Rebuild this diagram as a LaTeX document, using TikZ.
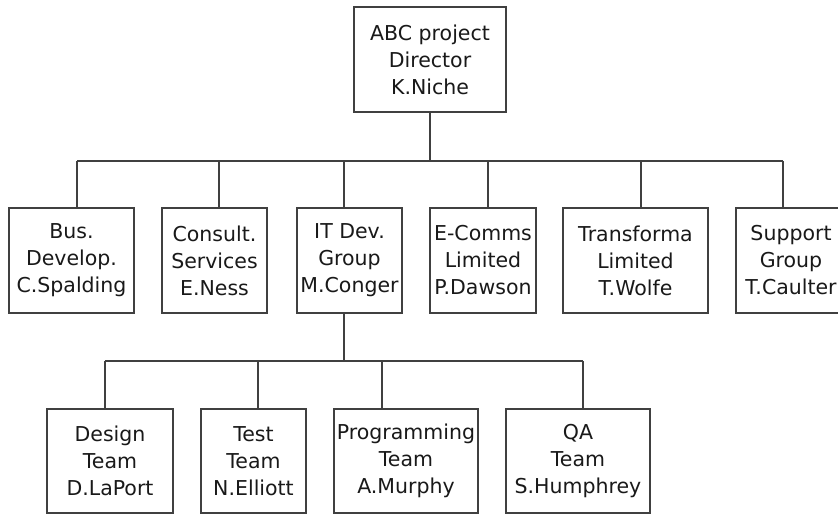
\documentclass[tikz,border=0pt]{standalone}
\usepackage{fontspec}
\setmainfont{DejaVu Sans}
\begin{document}
\begin{tikzpicture}[x=1pt,y=-1pt,
  box/.style={draw=black!75, line width=1.2pt, fill=white, inner sep=0pt, align=center,
    font=\fontsize{20.5}{27}\selectfont, text=black!90},
  link/.style={draw=black!75, line width=1.2pt}]
\useasboundingbox (0,0) rectangle (838,514);
% nodes
\node[box, minimum width=152pt, minimum height=105pt] (dir) at (430,59.5) {ABC project\\Director\\K.Niche};
\node[box, minimum width=125pt, minimum height=105pt] (bus) at (71.5,260.5) {Bus.\\Develop.\\C.Spalding};
\node[box, minimum width=105pt, minimum height=105pt] (cons) at (214.5,260.5) {Consult.\\Services\\E.Ness};
\node[box, minimum width=105pt, minimum height=105pt] (itd) at (349.5,260.5) {IT Dev.\\Group\\M.Conger};
\node[box, minimum width=106pt, minimum height=105pt] (ecom) at (483,260.5) {E-Comms\\Limited\\P.Dawson};
\node[box, minimum width=145pt, minimum height=105pt] (trans) at (635.5,260.5) {Transforma\\Limited\\T.Wolfe};
\node[box, minimum width=110pt, minimum height=105pt] (supp) at (791,260.5) {Support\\Group\\T.Caulter};
\node[box, minimum width=126pt, minimum height=104pt] (des) at (110,461) {Design\\Team\\D.LaPort};
\node[box, minimum width=105pt, minimum height=104pt] (test) at (253.5,461) {Test\\Team\\N.Elliott};
\node[box, minimum width=144pt, minimum height=104pt] (prog) at (406,461) {Programming\\Team\\A.Murphy};
\node[box, minimum width=144pt, minimum height=104pt] (qa) at (578,461) {QA\\Team\\S.Humphrey};
% junctions
\coordinate (jdir) at (430,161);
\coordinate (jbus) at (77,161);
\coordinate (jcons) at (219,161);
\coordinate (jitd) at (344,161);
\coordinate (jecom) at (488,161);
\coordinate (jtrans) at (641,161);
\coordinate (jsupp) at (783,161);
\coordinate (kitd) at (344,361);
\coordinate (kdes) at (105,361);
\coordinate (ktest) at (258,361);
\coordinate (kprog) at (382,361);
\coordinate (kqa) at (583,361);
% connectors
\draw[link] (dir.south) -- (jdir);
\draw[link] (jbus) -- (jsupp);
\foreach \j/\n in {jbus/bus, jcons/cons, jitd/itd, jecom/ecom, jtrans/trans, jsupp/supp}
  \draw[link] (\j) -- (\j |- \n.north);
\draw[link] (jitd |- itd.south) -- (kitd);
\draw[link] (kdes) -- (kqa);
\foreach \j/\n in {kdes/des, ktest/test, kprog/prog, kqa/qa}
  \draw[link] (\j) -- (\j |- \n.north);
\end{tikzpicture}
\end{document}
